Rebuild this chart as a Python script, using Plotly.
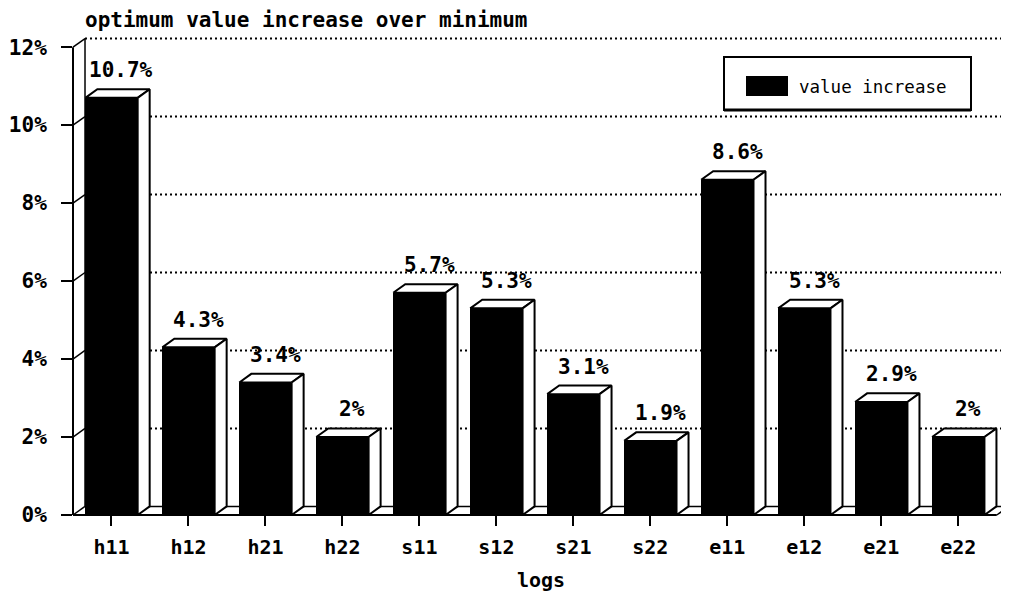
import plotly.graph_objects as go

# ---- data ----
categories = ["h11", "h12", "h21", "h22", "s11", "s12", "s21", "s22", "e11", "e12", "e21", "e22"]
values = [10.7, 4.3, 3.4, 2.0, 5.7, 5.3, 3.1, 1.9, 8.6, 5.3, 2.9, 2.0]
y_ticks = [0, 2, 4, 6, 8, 10, 12]
y_tick_labels = ["0%", "2%", "4%", "6%", "8%", "10%", "12%"]
series_name = "value increase"
title_text = "optimum value increase over minimum"
x_title = "logs"

# ---- geometry / style ----
OFF = 8                      # browser body margin
FIG_W, FIG_H = 1009 - OFF, 592 - OFF
M_L, M_R, M_T, M_B = 73 - OFF, 0, 30 - OFF, 77
W_BAR = 0.68
DX = 0.156     # depth offset in category units
DY = 0.22      # depth offset in % units
X0 = -0.5
X1 = len(categories) - 0.5
XR = [X0, X1 + DX + 0.003]
YR = [0, 12.44]
FONT = "DejaVu Sans Mono"

xs = list(range(len(categories)))


def xp(x):
    return (x - XR[0]) / (XR[1] - XR[0])


def yp(y):
    return (y - YR[0]) / (YR[1] - YR[0])


def px_x(px):
    return (px - OFF - M_L) / (FIG_W - M_L - M_R)


def px_y(py):
    return (OFF + FIG_H - M_B - py) / (FIG_H - M_T - M_B)


fig = go.Figure()

# front faces of bars
fig.add_trace(go.Bar(
    x=xs, y=values, width=W_BAR, name=series_name,
    marker=dict(color="black", line=dict(width=0)),
    showlegend=False, hoverinfo="skip",
))

# top and side faces
top_x, top_y, side_x, side_y = [], [], [], []
for x, v in zip(xs, values):
    l, r = x - W_BAR / 2, x + W_BAR / 2
    top_x += [l, l + DX, r + DX, r, l, None]
    top_y += [v, v + DY, v + DY, v, v, None]
    side_x += [r, r + DX, r + DX, r, r, None]
    side_y += [v, v + DY, DY, 0, v, None]

for px_, py_ in ((top_x, top_y), (side_x, side_y)):
    fig.add_trace(go.Scatter(
        x=px_, y=py_, mode="lines", fill="toself", fillcolor="white",
        line=dict(color="black", width=2), showlegend=False, hoverinfo="skip",
    ))

shapes = []
# back-wall dotted gridlines
for v in y_ticks[1:]:
    shapes.append(dict(type="line", xref="paper", yref="paper",
                       x0=xp(X0 + DX), x1=xp(X1 + DX), y0=yp(v + DY), y1=yp(v + DY),
                       line=dict(color="black", width=2, dash="2px,3px"), layer="below"))
# floor back line
shapes.append(dict(type="line", xref="paper", yref="paper",
                   x0=xp(X0 + DX), x1=xp(X1 + DX), y0=yp(DY), y1=yp(DY),
                   line=dict(color="black", width=1.5), layer="below"))
# left wall back line
shapes.append(dict(type="line", xref="paper", yref="paper",
                   x0=xp(X0 + DX), x1=xp(X0 + DX), y0=yp(DY), y1=yp(y_ticks[-1] + DY),
                   line=dict(color="black", width=1.5), layer="below"))
# left wall diagonals at ticks
for v in y_ticks:
    shapes.append(dict(type="line", xref="paper", yref="paper",
                       x0=xp(X0), x1=xp(X0 + DX), y0=yp(v), y1=yp(v + DY),
                       line=dict(color="black", width=1.5), layer="below"))
# right floor diagonal
shapes.append(dict(type="line", xref="paper", yref="paper",
                   x0=xp(X1), x1=xp(X1 + DX), y0=yp(0), y1=yp(DY),
                   line=dict(color="black", width=1.5), layer="below"))
# front axis lines
shapes.append(dict(type="line", xref="paper", yref="paper",
                   x0=xp(X0), x1=xp(X0), y0=yp(0), y1=yp(y_ticks[-1]),
                   line=dict(color="black", width=2), layer="above"))
shapes.append(dict(type="line", xref="paper", yref="paper",
                   x0=xp(X0), x1=xp(X1), y0=yp(0), y1=yp(0),
                   line=dict(color="black", width=2), layer="above"))

# legend box (manual)
shapes.append(dict(type="rect", xref="paper", yref="paper",
                   x0=px_x(724), x1=px_x(971), y0=px_y(110), y1=px_y(57),
                   line=dict(color="black", width=2), fillcolor="white", layer="above"))
shapes.append(dict(type="line", xref="paper", yref="paper",
                   x0=px_x(724), x1=px_x(971), y0=px_y(110), y1=px_y(110),
                   line=dict(color="black", width=3), layer="above"))
shapes.append(dict(type="rect", xref="paper", yref="paper",
                   x0=px_x(746), x1=px_x(788), y0=px_y(96), y1=px_y(76),
                   line=dict(width=0), fillcolor="black", layer="above"))

annotations = [dict(
    xref="paper", yref="paper", x=px_x(797), y=px_y(87), xanchor="left", yanchor="middle",
    text=series_name, showarrow=False, font=dict(family=FONT, size=17.5, color="black"),
)]

# value labels
for x, v in zip(xs, values):
    annotations.append(dict(
        x=x, y=v + DY, xref="x", yref="y", text=f"{v:g}%", showarrow=False,
        xanchor="center", yanchor="bottom", xshift=10, yshift=5,
        font=dict(family=FONT, size=21, color="black", weight="bold"),
    ))

fig.update_layout(
    width=FIG_W, height=FIG_H,
    margin=dict(l=M_L, r=M_R, t=M_T, b=M_B),
    paper_bgcolor="white", plot_bgcolor="white",
    showlegend=False,
    bargap=0,
    title=dict(text=title_text, xref="container", yref="container",
               x=(85 - OFF) / FIG_W, y=1 - 4 / FIG_H, xanchor="left", yanchor="top",
               pad=dict(t=0, b=0, l=0, r=0),
               font=dict(family=FONT, size=21, color="black", weight="bold")),
    xaxis=dict(range=XR, tickmode="array", tickvals=xs, ticktext=categories,
               showgrid=False, zeroline=False, showline=False,
               ticks="outside", ticklen=10, tickwidth=2, tickcolor="black",
               ticklabelstandoff=4,
               tickfont=dict(family=FONT, size=20, color="black", weight="bold"),
               title=dict(text=x_title, standoff=18,
                          font=dict(family=FONT, size=20, color="black", weight="bold"))),
    yaxis=dict(range=YR, tickmode="array", tickvals=y_ticks, ticktext=y_tick_labels,
               showgrid=False, zeroline=False, showline=False,
               ticks="outside", ticklen=11, tickwidth=2, tickcolor="black",
               ticklabelstandoff=10,
               tickfont=dict(family=FONT, size=21, color="black", weight="bold")),
    shapes=shapes,
    annotations=annotations,
)

fig.write_html("out.html")
